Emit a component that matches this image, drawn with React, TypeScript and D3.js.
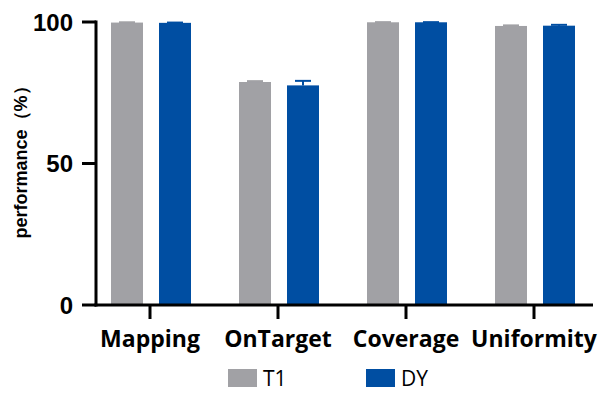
import React from 'react';
import * as d3 from 'd3';

const categories = ['Mapping', 'OnTarget', 'Coverage', 'Uniformity'];
const seriesNames = ['T1', 'DY'];
const t1Values = [99.8, 78.8, 99.9, 98.6];
const t1Errors = [0.1, 0.3, 0.05, 0.2];
const dyValues = [99.7, 77.6, 99.9, 98.7];
const dyErrors = [0.1, 1.6, 0.05, 0.3];
const yTicks = [0, 50, 100];
const colors = ['#a1a1a5', '#004ea2'];

const width = 600;
const height = 393;
const margin = { left: 96, right: 7, top: 22, bottom: 88 };

export default function App() {
  // category bands: 128px step, first centre at x=150
  const x = d3.scaleBand<string>()
    .domain(categories)
    .range([86, 598])
    .padding(0);
  const y = d3.scaleLinear().domain([0, 100]).range([height - margin.bottom, margin.top]);
  const inner = d3.scaleBand<string>().domain(seriesNames).range([0, 80]).paddingInner(1 / 3);

  const series = [
    { name: 'T1', values: t1Values, errors: t1Errors },
    { name: 'DY', values: dyValues, errors: dyErrors },
  ];

  const bx = (cat: string) => (x(cat) as number) + x.bandwidth() / 2 - 39;

  return (
    <svg width={width} height={height} style={{ position: 'absolute', left: 0, top: 0 }}>
      <rect width={width} height={height} fill="#fff" />
      {series.map((s, si) => (
        <g key={s.name}>
          {categories.map((c, i) => {
            const x0 = bx(c) + (inner(s.name) as number);
            const w = inner.bandwidth();
            const cx = x0 + w / 2;
            const yTop = y(s.values[i] + s.errors[i]);
            return (
              <g key={c}>
                <rect x={x0} y={y(s.values[i])} width={w} height={y(0) - y(s.values[i])} fill={colors[si]} />
                <line x1={cx} x2={cx} y1={y(s.values[i])} y2={yTop} stroke={colors[si]} strokeWidth={2} />
                <line x1={cx - 8} x2={cx + 8} y1={yTop} y2={yTop} stroke={colors[si]} strokeWidth={2} />
              </g>
            );
          })}
        </g>
      ))}
      {/* y axis */}
      <line x1={margin.left} x2={margin.left} y1={y(100) - 1.5} y2={y(0) + 1.5} stroke="#000" strokeWidth={3} />
      {yTicks.map(t => (
        <g key={t}>
          <line x1={margin.left - 14} x2={margin.left} y1={y(t)} y2={y(t)} stroke="#000" strokeWidth={3} />
          <text x={margin.left - 23} y={y(t)} dy="0.36em" textAnchor="end"
            fontFamily="Arial, 'Liberation Sans', sans-serif" fontWeight="bold" fontSize={24}>{t}</text>
        </g>
      ))}
      {/* x axis */}
      <line x1={margin.left - 1.5} x2={width - margin.right} y1={y(0)} y2={y(0)} stroke="#000" strokeWidth={3} />
      {categories.map(c => {
        const cx = (x(c) as number) + x.bandwidth() / 2;
        return (
          <g key={c}>
            <line x1={cx} x2={cx} y1={y(0)} y2={y(0) + 14} stroke="#000" strokeWidth={3} />
            <text x={cx} y={y(0) + 42} textAnchor="middle"
              fontFamily="'Open Sans', 'Noto Sans', sans-serif" fontWeight="bold" fontSize={23}>{c}</text>
          </g>
        );
      })}
      <text transform={`translate(27,158) rotate(-90)`} textAnchor="middle"
        fontFamily="Arial, 'Liberation Sans', sans-serif" fontWeight="bold" fontSize={18}>performance（%）</text>
      {/* legend */}
      {seriesNames.map((n, i) => (
        <g key={n} transform={`translate(228,369) translate(${i * 138},0)`}>
          <rect width={29} height={18} fill={colors[i]} />
          <text x={35} y={9} dy="0.36em" fontFamily="'Open Sans', 'Noto Sans', sans-serif" fontSize={21}>{n}</text>
        </g>
      ))}
    </svg>
  );
}
